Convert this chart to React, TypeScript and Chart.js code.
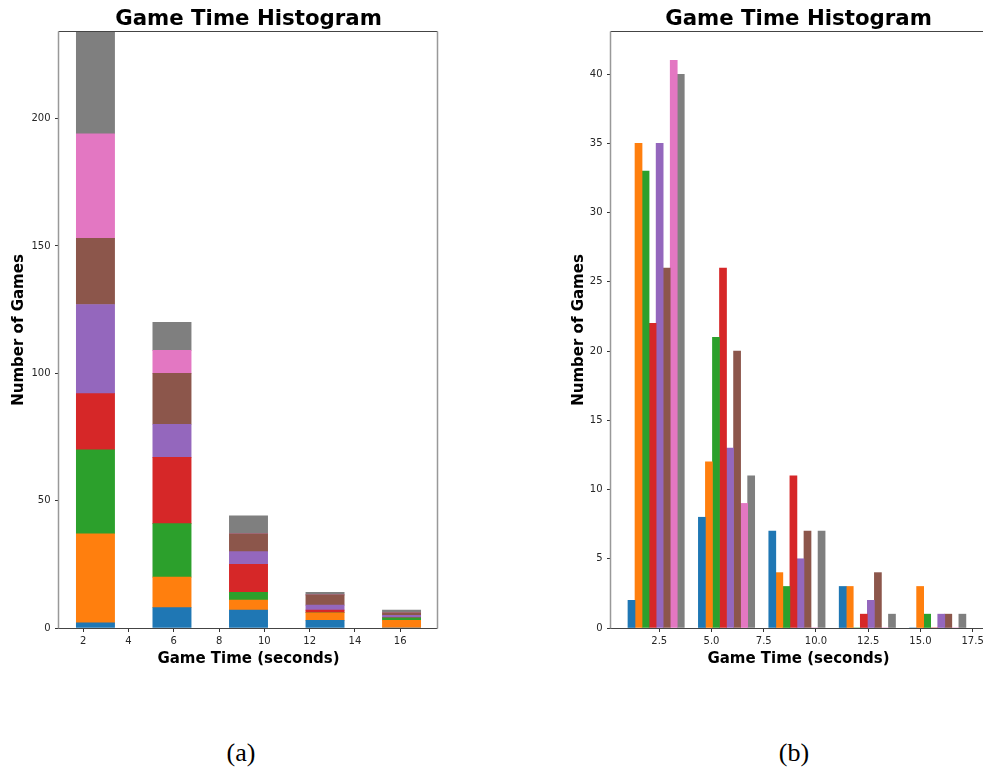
import React, { useEffect, useRef } from 'react';
import { Chart, registerables } from 'chart.js';

Chart.register(...registerables);

// ---- data ----
const seriesColors = ['#1f77b4', '#ff7f0e', '#2ca02c', '#d62728', '#9467bd', '#8c564b', '#e377c2', '#7f7f7f'];

const binCentersStacked = [2.54, 5.92, 9.3, 12.68, 16.06];
const binCentersGrouped = [2.35, 5.72, 9.09, 12.46, 15.83];
const binWidthStacked = 3.382;
const binWidthGrouped = 3.37;

const seriesBlue = [2, 8, 7, 3, 0];
const seriesOrange = [35, 12, 4, 3, 3];
const seriesGreen = [33, 21, 3, 0, 1];
const seriesRed = [22, 26, 11, 1, 0];
const seriesPurple = [35, 13, 5, 2, 1];
const seriesBrown = [26, 20, 7, 4, 1];
const seriesPink = [41, 9, 0, 0, 0];
const seriesGray = [40, 11, 7, 1, 1];
const allSeries = [seriesBlue, seriesOrange, seriesGreen, seriesRed, seriesPurple, seriesBrown, seriesPink, seriesGray];

const xTicksStacked = [2, 4, 6, 8, 10, 12, 14, 16];
const yTicksStacked = [0, 50, 100, 150, 200];
const xTicksGrouped = [2.5, 5, 7.5, 10, 12.5, 15, 17.5];
const yTicksGrouped = [0, 5, 10, 15, 20, 25, 30, 35, 40];

const xRangeStacked = [0.93, 17.67];
const yRangeStacked = [0, 234];
const xRangeGrouped = [0.19, 18.14];
const yRangeGrouped = [0, 43.05];

const titleText = 'Game Time Histogram';
const xLabelText = 'Game Time (seconds)';
const yLabelText = 'Number of Games';

// ---- layout ----
const CANVAS_H = 690;
const layoutA = { w: 450, left: 59, right: 438, top: 32, bottom: 628 };
const layoutB = { w: 440, left: 51, right: 426, top: 32, bottom: 628 };

const framePlugin = {
  id: 'frame',
  afterDraw(chart: any, _args: any, opts: any) {
    const { ctx, chartArea: a } = chart;
    ctx.save();
    const line = (x1: number, y1: number, x2: number, y2: number, c: string, w: number) => {
      ctx.beginPath();
      ctx.strokeStyle = c;
      ctx.lineWidth = w;
      ctx.moveTo(x1, y1);
      ctx.lineTo(x2, y2);
      ctx.stroke();
    };
    const L = Math.round(a.left) - 0.5;
    const R = Math.round(a.right) - 0.5;
    const T = Math.round(a.top) - 0.5;
    const B = Math.round(a.bottom) + 0.5;
    line(L, T, R, T, '#444', 1);
    line(L, B, R, B, '#444', 1);
    line(L, T, L, B, '#999', 1.5);
    line(R, T, R, B, '#999', 1.5);

    const cx = (a.left + a.right) / 2;
    const cy = (a.top + a.bottom) / 2;
    ctx.fillStyle = '#000';
    ctx.textAlign = 'center';
    ctx.textBaseline = 'alphabetic';
    ctx.font = 'bold 21.3px "DejaVu Sans"';
    ctx.fillText(opts.title, cx, 25.3);
    ctx.font = 'bold 15px "DejaVu Sans"';
    ctx.fillText(opts.xLabel, cx, 663.3);
    ctx.translate(23.3, cy);
    ctx.rotate(-Math.PI / 2);
    ctx.fillText(opts.yLabel, 0, 0);
    ctx.restore();
  },
};

function makeConfig(kind: 'stacked' | 'grouped'): any {
  const stacked = kind === 'stacked';
  const lay = stacked ? layoutA : layoutB;
  const centers = stacked ? binCentersStacked : binCentersGrouped;
  const xr = stacked ? xRangeStacked : xRangeGrouped;
  const yr = stacked ? yRangeStacked : yRangeGrouped;
  const xt = stacked ? xTicksStacked : xTicksGrouped;
  const yt = stacked ? yTicksStacked : yTicksGrouped;
  const pxPerUnit = (lay.right - lay.left) / (xr[1] - xr[0]);
  const thickness = stacked
    ? 0.5 * binWidthStacked * pxPerUnit
    : (0.8 * binWidthGrouped * pxPerUnit) / allSeries.length;

  const datasets = allSeries.map((s, i) => ({
    label: 'S' + (i + 1),
    data: s.map((v, j) => ({ x: centers[j], y: v })),
    backgroundColor: seriesColors[i],
    borderWidth: 0,
    barThickness: thickness,
  }));

  const tickFont = { family: '"DejaVu Sans"', size: 10 };
  const grid = {
    display: true,
    offset: false,
    drawOnChartArea: false,
    drawTicks: true,
    tickLength: 4,
    tickColor: '#333',
    lineWidth: 1,
  };

  return {
    type: 'bar',
    data: { datasets },
    options: {
      animation: false,
      responsive: false,
      maintainAspectRatio: false,
      devicePixelRatio: 1,
      layout: {
        padding: { left: 0, top: lay.top, right: lay.w - lay.right, bottom: 0 },
      },
      plugins: {
        legend: { display: false },
        tooltip: { enabled: false },
        title: { display: false },
        frame: { title: titleText, xLabel: xLabelText, yLabel: yLabelText },
      },
      scales: {
        x: {
          type: 'linear',
          stacked: stacked,
          offset: false,
          min: xr[0],
          max: xr[1],
          grid,
          border: { display: false },
          afterBuildTicks: (scale: any) => {
            scale.ticks = xt.map((v) => ({ value: v }));
          },
          afterFit: (scale: any) => {
            scale.height = CANVAS_H - lay.bottom;
          },
          ticks: {
            font: tickFont,
            color: '#262626',
            padding: 3,
            maxRotation: 0,
            autoSkip: false,
            callback: (v: any) => (stacked ? String(v) : Number(v).toFixed(1)),
          },
        },
        y: {
          type: 'linear',
          stacked: stacked,
          min: yr[0],
          max: yr[1],
          grid,
          border: { display: false },
          afterBuildTicks: (scale: any) => {
            scale.ticks = yt.map((v) => ({ value: v }));
          },
          afterFit: (scale: any) => {
            scale.width = lay.left;
          },
          ticks: {
            font: tickFont,
            color: '#262626',
            padding: 4.5,
            autoSkip: false,
            callback: (v: any) => String(v),
          },
        },
      },
    },
    plugins: [framePlugin],
  };
}

export default function App() {
  const refA = useRef<HTMLCanvasElement | null>(null);
  const refB = useRef<HTMLCanvasElement | null>(null);

  useEffect(() => {
    const a = new Chart(refA.current as HTMLCanvasElement, makeConfig('stacked'));
    const b = new Chart(refB.current as HTMLCanvasElement, makeConfig('grouped'));
    return () => {
      a.destroy();
      b.destroy();
    };
  }, []);

  const capStyle: React.CSSProperties = {
    position: 'absolute',
    top: 738,
    width: 100,
    textAlign: 'center',
    fontFamily: '"Liberation Serif", serif',
    fontSize: 26,
    lineHeight: '30px',
    color: '#000',
  };

  return (
    <div
      style={{
        position: 'absolute',
        left: 0,
        top: 0,
        width: 983,
        height: 771,
        overflow: 'hidden',
        background: '#fff',
      }}
    >
      <canvas
        ref={refA}
        width={layoutA.w}
        height={CANVAS_H}
        style={{ position: 'absolute', left: 0, top: 0, width: layoutA.w, height: CANVAS_H }}
      />
      <canvas
        ref={refB}
        width={layoutB.w}
        height={CANVAS_H}
        style={{ position: 'absolute', left: 560, top: 0, width: layoutB.w, height: CANVAS_H }}
      />
      <div style={{ ...capStyle, left: 191 }}>(a)</div>
      <div style={{ ...capStyle, left: 744 }}>(b)</div>
    </div>
  );
}
